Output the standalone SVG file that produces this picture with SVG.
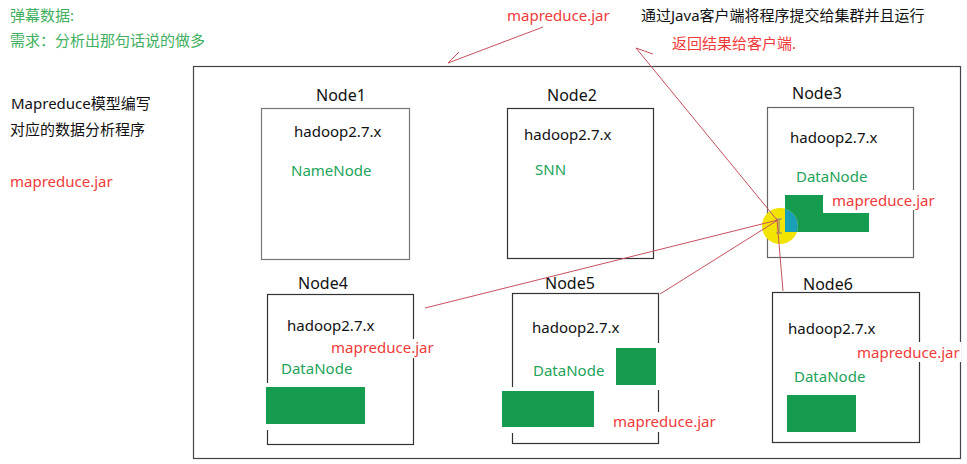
<svg xmlns="http://www.w3.org/2000/svg" width="967" height="464" viewBox="0 0 967 464">
<style>
text{font-family:"Noto Sans","Noto Sans CJK SC",sans-serif;font-size:15px}
.blk{fill:#111}
.red{fill:#f03a3a}
.grn{fill:#22a35a}
.lgrn{fill:#3fb060}
.lbl{font-size:16px;fill:#111}
.box{fill:none;stroke:#333;stroke-width:1.2}
.gbox{fill:#169c4f}
.pad{fill:#fff}
.con{fill:none;stroke:#c8505c;stroke-width:1}
</style>
<defs>
<clipPath id="c3"><polygon points="785,195 823,195 823,213 869,213 869,232 785,232"/></clipPath>
</defs>
<rect width="967" height="464" fill="#fff"/>
<g id="notes">
<text x="10" y="21" class="lgrn">弹幕数据:</text>
<text x="10" y="46" class="lgrn">需求：分析出那句话说的做多</text>
<text x="11" y="109" class="blk">Mapreduce模型编写</text>
<text x="10" y="135" class="blk">对应的数据分析程序</text>
<text x="10" y="187" class="red">mapreduce.jar</text>
<text x="507" y="21" class="red">mapreduce.jar</text>
<text x="641" y="21" class="blk">通过Java客户端将程序提交给集群并且运行</text>
<text x="672" y="49" class="red">返回结果给客户端.</text>
</g>
<g id="cluster">
<rect x="193.5" y="66.5" width="767" height="392" fill="none" stroke="#444" stroke-width="1.2"/>
</g>
<g id="node1">
<rect x="261.5" y="108.5" width="148" height="151" fill="none" stroke="#777" stroke-width="1.2"/>
<text x="316" y="101" class="lbl">Node1</text>
<text x="294" y="137" class="blk">hadoop2.7.x</text>
<text x="291" y="176" class="grn">NameNode</text>
</g>
<g id="node2">
<rect x="507.5" y="108.5" width="146" height="150" class="box"/>
<text x="547" y="101" class="lbl">Node2</text>
<text x="524" y="140" class="blk">hadoop2.7.x</text>
<text x="535" y="175" class="grn">SNN</text>
</g>
<g id="node3">
<rect x="767.5" y="107.5" width="146" height="150" fill="none" stroke="#666" stroke-width="1.2"/>
<text x="792" y="99" class="lbl">Node3</text>
<text x="790" y="143" class="blk">hadoop2.7.x</text>
<text x="796" y="182" class="grn">DataNode</text>
<polygon points="785,195 823,195 823,213 869,213 869,232 785,232" class="gbox"/>
<rect x="829" y="190" width="108" height="20" class="pad"/>
<text x="832" y="206" class="red">mapreduce.jar</text>
<circle cx="780" cy="226" r="18" fill="#f2e400"/>
<circle cx="780" cy="226" r="18" fill="#1a9fb8" clip-path="url(#c3)"/>
<path d="M776,219 h6 M779,219 v14 M776,233 h6" stroke="#888" stroke-width="1.2" fill="none"/>
</g>
<g id="node4">
<rect x="267.5" y="294.5" width="146" height="150" class="box"/>
<text x="298" y="289" class="lbl">Node4</text>
<text x="287" y="331" class="blk">hadoop2.7.x</text>
<rect x="262" y="383" width="108" height="47" class="pad"/>
<rect x="266" y="387" width="99" height="37" class="gbox"/>
<rect x="329" y="339" width="106" height="19" class="pad"/>
<text x="331" y="353" class="red">mapreduce.jar</text>
<text x="281" y="374" class="grn">DataNode</text>
</g>
<g id="node5">
<rect x="512.5" y="293.5" width="146" height="150" class="box"/>
<text x="545" y="289" class="lbl">Node5</text>
<text x="532" y="333" class="blk">hadoop2.7.x</text>
<rect x="612" y="343" width="50" height="47" class="pad"/>
<rect x="616" y="348" width="40" height="37" class="gbox"/>
<text x="533" y="376" class="grn">DataNode</text>
<rect x="498" y="387" width="100" height="46" class="pad"/>
<rect x="502" y="391" width="92" height="36" class="gbox"/>
<rect x="610" y="412" width="108" height="20" class="pad"/>
<text x="613" y="427" class="red">mapreduce.jar</text>
</g>
<g id="node6">
<rect x="772.5" y="292.5" width="147" height="150" class="box"/>
<text x="803" y="290" class="lbl">Node6</text>
<text x="788" y="334" class="blk">hadoop2.7.x</text>
<rect x="855" y="342" width="106" height="20" class="pad"/>
<text x="857" y="358" class="red">mapreduce.jar</text>
<text x="794" y="382" class="grn">DataNode</text>
<rect x="787" y="395" width="69" height="37" class="gbox"/>
</g>
<g id="connectors">
<path class="con" d="M543,27 L448,63 M448,63 L459,52"/>
<path class="con" d="M777,220 L636,48 M636,48 L653,54"/>
<path class="con" d="M778,220 L425,308"/>
<path class="con" d="M778,220 L660,294"/>
<path class="con" d="M777,220 L783,291"/>
</g>
</svg>
